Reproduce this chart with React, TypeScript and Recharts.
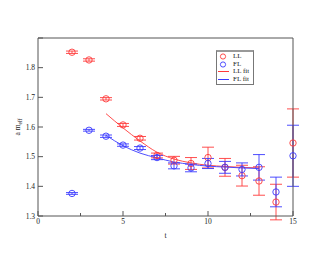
import React from 'react';
import { ComposedChart, Scatter, Line, XAxis, YAxis, ErrorBar, Legend } from 'recharts';

// time slices and effective masses
const tValues = [2, 3, 4, 5, 6, 7, 8, 9, 10, 11, 12, 13, 14, 15];
const llMass = [1.852, 1.826, 1.695, 1.607, 1.562, 1.504, 1.488, 1.477, 1.497, 1.464, 1.436, 1.418, 1.347, 1.546];
const llErr = [0.004, 0.004, 0.004, 0.005, 0.006, 0.008, 0.013, 0.02, 0.035, 0.03, 0.035, 0.048, 0.06, 0.115];
const flMass = [1.376, 1.589, 1.569, 1.539, 1.529, 1.497, 1.469, 1.462, 1.477, 1.464, 1.457, 1.464, 1.381, 1.503];
const flErr = [0.003, 0.003, 0.004, 0.004, 0.005, 0.007, 0.01, 0.013, 0.017, 0.02, 0.022, 0.043, 0.05, 0.103];

// fit curves
const fitT = [4, 5, 6, 7, 8, 9, 10, 11, 12, 13];
const llFit = [1.645, 1.597, 1.553, 1.515, 1.492, 1.479, 1.471, 1.467, 1.464, 1.462];
const flFit = [1.572, 1.537, 1.512, 1.496, 1.482, 1.474, 1.468, 1.465, 1.462, 1.46];

const xTicks = [0, 2.5, 5, 7.5, 10, 12.5, 15];
const yTicks = [1.3, 1.35, 1.4, 1.45, 1.5, 1.55, 1.6, 1.65, 1.7, 1.75, 1.8, 1.85, 1.9];
const yLabels: Record<string, string> = { '1.3': '1.3', '1.4': '1.4', '1.5': '1.5', '1.6': '1.6', '1.7': '1.7', '1.8': '1.8' };

const RED = '#ff3a3a';
const BLUE = '#3a3aff';
const AXIS = '#555';
const FONT = '"Liberation Serif", "DejaVu Serif", serif';

const llData = tValues.map((t, i) => ({ t, m: llMass[i], e: llErr[i] }));
const flData = tValues.map((t, i) => ({ t, m: flMass[i], e: flErr[i] }));
const llFitData = fitT.map((t, i) => ({ t, m: llFit[i] }));
const flFitData = fitT.map((t, i) => ({ t, m: flFit[i] }));

const isMajorX = (v: number) => v % 5 === 0;
const isMajorY = (v: number) => Math.round(v * 100) % 10 === 0;

function BottomTick({ x, y, payload }: any) {
  const major = isMajorX(payload.value);
  return (
    <g>
      <line x1={x} x2={x} y1={y} y2={y - (major ? 5 : 3)} stroke={AXIS} />
      {major && (
        <text x={x} y={y + 8} textAnchor="middle" fontSize={7.5} fontFamily={FONT} fill="#222">
          {payload.value}
        </text>
      )}
    </g>
  );
}

function TopTick({ x, y, payload }: any) {
  const major = isMajorX(payload.value);
  return <line x1={x} x2={x} y1={y} y2={y + (major ? 5 : 3)} stroke={AXIS} />;
}

function LeftTick({ x, y, payload }: any) {
  const major = isMajorY(payload.value);
  const label = yLabels[String(payload.value)];
  return (
    <g>
      <line x1={x} x2={x + (major ? 5 : 3)} y1={y} y2={y} stroke={AXIS} />
      {major && label && (
        <text x={x - 3} y={y + 2.5} textAnchor="end" fontSize={7.5} fontFamily={FONT} fill="#222">
          {label}
        </text>
      )}
    </g>
  );
}

function RightTick({ x, y, payload }: any) {
  const major = isMajorY(payload.value);
  return <line x1={x} x2={x - (major ? 5 : 3)} y1={y} y2={y} stroke={AXIS} />;
}

const Ring = (color: string) => (p: any) =>
  <circle cx={p.cx} cy={p.cy} r={3.2} fill="none" stroke={color} strokeWidth={0.9} />;

function LegendBox() {
  const rows = [
    { name: 'LL', color: RED, kind: 'ring' },
    { name: 'FL', color: BLUE, kind: 'ring' },
    { name: 'LL fit', color: RED, kind: 'line' },
    { name: 'FL fit', color: BLUE, kind: 'line' },
  ];
  return (
    <div style={{ border: '1px solid #777', borderTop: '2px solid #999', background: '#fff', width: 36, padding: '1px 0 1px 0', fontFamily: FONT, fontSize: 7, color: '#222', lineHeight: '7.5px' }}>
      {rows.map((r) => (
        <div key={r.name} style={{ display: 'flex', alignItems: 'center', height: 7.5 }}>
          <svg width={16} height={7}>
            {r.kind === 'ring' ? (
              <circle cx={6} cy={3.5} r={2.6} fill="none" stroke={r.color} strokeWidth={0.9} />
            ) : (
              <line x1={1} x2={12} y1={3.5} y2={3.5} stroke={r.color} strokeWidth={1} />
            )}
          </svg>
          <span>{r.name}</span>
        </div>
      ))}
    </div>
  );
}

function YLabel({ viewBox }: any) {
  const cx = 20;
  const cy = viewBox.y + viewBox.height / 2;
  return (
    <text x={cx} y={cy} transform={`rotate(-90 ${cx} ${cy})`} textAnchor="middle" fontSize={7.5} fontFamily={FONT} fill="#222">
      a m<tspan fontSize={5.5} dy={2}>eff</tspan>
    </text>
  );
}

export default function App() {
  return (
    <div style={{ position: 'absolute', left: 0, top: 0, background: '#fff' }}>
      <ComposedChart width={330} height={255} margin={{ top: 8, right: 7, bottom: 9, left: 8 }}>
        <XAxis
          dataKey="t"
          type="number"
          domain={[0, 15]}
          ticks={xTicks}
          height={30}
          tickSize={0}
          tickMargin={0}
          tickLine={false}
          tick={<BottomTick />}
          stroke={AXIS}
          allowDuplicatedCategory={false}
          label={{ value: 't', position: 'insideBottom', offset: 8, fontSize: 7.5, fontFamily: FONT, fill: '#222' }}
        />
        <XAxis
          xAxisId="top"
          orientation="top"
          type="number"
          domain={[0, 15]}
          ticks={xTicks}
          height={30}
          tickSize={0}
          tickMargin={0}
          tickLine={false}
          tick={<TopTick />}
          stroke={AXIS}
        />
        <YAxis
          type="number"
          domain={[1.3, 1.9]}
          ticks={yTicks}
          width={30}
          tickSize={0}
          tickMargin={0}
          tickLine={false}
          tick={<LeftTick />}
          stroke={AXIS}
          allowDataOverflow
          label={<YLabel />}
        />
        <YAxis
          yAxisId="right"
          orientation="right"
          type="number"
          domain={[1.3, 1.9]}
          ticks={yTicks}
          width={30}
          tickSize={0}
          tickMargin={0}
          tickLine={false}
          tick={<RightTick />}
          stroke={AXIS}
        />
        <Legend
          layout="vertical"
          align="center"
          verticalAlign="middle"
          wrapperStyle={{ left: 216, top: 50, width: 38 }}
          content={<LegendBox />}
        />
        <Line data={llFitData} dataKey="m" type="monotone" stroke={RED} strokeWidth={0.9} dot={false} isAnimationActive={false} />
        <Line data={flFitData} dataKey="m" type="monotone" stroke={BLUE} strokeWidth={0.9} dot={false} isAnimationActive={false} />
        <Scatter data={llData} dataKey="m" shape={Ring(RED)} isAnimationActive={false}>
          <ErrorBar dataKey="e" direction="y" width={6} stroke={RED} strokeWidth={0.9} isAnimationActive={false} />
        </Scatter>
        <Scatter data={flData} dataKey="m" shape={Ring(BLUE)} isAnimationActive={false}>
          <ErrorBar dataKey="e" direction="y" width={6} stroke={BLUE} strokeWidth={0.9} isAnimationActive={false} />
        </Scatter>
      </ComposedChart>
    </div>
  );
}
